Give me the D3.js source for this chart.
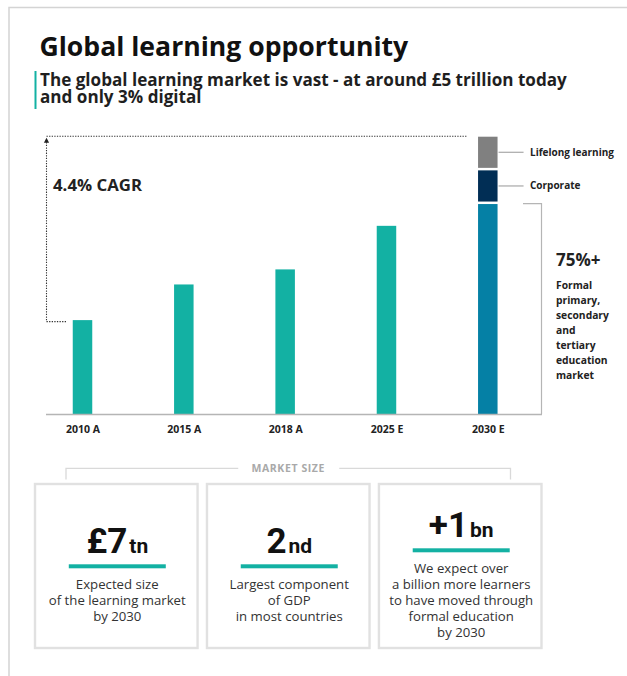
<!DOCTYPE html>
<html>
<head>
<meta charset="utf-8">
<script src="https://cdn.jsdelivr.net/npm/d3@7"></script>
<style>
  html, body { margin: 0; padding: 0; background: #fff; }
  svg { display: block; font-family: "Open Sans", "Noto Sans", sans-serif; }
</style>
</head>
<body>
<svg id="chart" width="627" height="676"></svg>
<script>
// ---- data (£ trillion) ----
const years = ["2010 A", "2015 A", "2018 A", "2025 E", "2030 E"];
const marketTn = [2.37, 3.27, 3.65, 4.75, null];          // single-colour bars
const segmentNames2030 = ["Formal", "Corporate", "Lifelong learning"];
const segmentValues2030 = [5.3, 0.85, 0.85];               // stacked 2030 bar, total £7tn
const cagrLabel = "4.4% CAGR";
const formalShareLabel = "75%+";
const formalNoteLines = ["Formal", "primary,", "secondary", "and", "tertiary", "education", "market"];

const cardFigures = ["£7", "2", "+1"];
const cardUnits = ["tn", "nd", "bn"];
const cardNotes = [
  ["Expected size", "of the learning market", "by 2030"],
  ["Largest component", "of GDP", "in most countries"],
  ["We expect over", "a billion more learners", "to have moved through", "formal education", "by 2030"]
];

// ---- colours ----
const teal = "#13b1a3";
const segColours = ["#0580a5", "#012e55", "#808080"];

const svg = d3.select("#chart");

// outer frame (top and left rules)
svg.append("path")
  .attr("d", "M9,676 V7.5 H627")
  .attr("fill", "none").attr("stroke", "#d4d4d4").attr("stroke-width", 1.5);

// headings
svg.append("text").attr("x", 39.5).attr("y", 55.5)
  .attr("font-size", 26.6).attr("font-weight", 700).attr("fill", "#111")
  .text("Global learning opportunity");
svg.append("rect").attr("x", 34.5).attr("y", 71).attr("width", 2).attr("height", 38).attr("fill", teal);
const sub = svg.append("text").attr("font-size", 17.1).attr("font-weight", 700).attr("fill", "#1f1f1f");
sub.append("tspan").attr("x", 40).attr("y", 86).text("The global learning market is vast - at around £5 trillion today");
sub.append("tspan").attr("x", 40).attr("y", 103).text("and only 3% digital");

// ---- bar chart ----
const baseY = 414;
const x = d3.scalePoint().domain(years).range([82.5, 487.8]);
const y = d3.scaleLinear().domain([0, 7]).range([baseY, 136.7]);
const barW = 19.5;

const g = svg.append("g");

// single bars
g.selectAll("rect.bar")
  .data(years.map((yr, i) => ({ yr, v: marketTn[i] })).filter(d => d.v != null))
  .join("rect").attr("class", "bar")
  .attr("x", d => x(d.yr) - barW / 2)
  .attr("y", d => y(d.v))
  .attr("width", barW)
  .attr("height", d => baseY - y(d.v))
  .attr("fill", teal);

// stacked 2030 bar
let acc = 0;
const stack2030 = segmentValues2030.map((v, i) => {
  const s = { name: segmentNames2030[i], y0: acc, y1: acc + v, i };
  acc += v;
  return s;
});
const gap = 2.5;
g.selectAll("rect.seg")
  .data(stack2030)
  .join("rect").attr("class", "seg")
  .attr("x", x("2030 E") - barW / 2)
  .attr("y", d => y(d.y1))
  .attr("width", barW)
  .attr("height", d => y(d.y0) - y(d.y1) - (d.i > 0 ? gap : 0))
  .attr("fill", d => segColours[d.i]);

// baseline
g.append("line").attr("x1", 46).attr("x2", 542).attr("y1", baseY + 0.5).attr("y2", baseY + 0.5)
  .attr("stroke", "#b5b5b5").attr("stroke-width", 1.5);

// x axis labels
const xAxis = g.append("g").attr("transform", `translate(0,${baseY + 7})`)
  .call(d3.axisBottom(x).tickSize(0).tickPadding(5));
xAxis.select(".domain").remove();
xAxis.selectAll("text")
  .attr("font-family", "'Open Sans', sans-serif")
  .attr("font-size", 10.5).attr("font-weight", 700).attr("fill", "#222");

// CAGR dotted guide from 2010 level to 2030 total
const total2030 = d3.sum(segmentValues2030);
const guideX = 46.5;
const yStart = y(marketTn[0]) + 1.5;
const yEnd = y(total2030) - 0.5;
g.append("path")
  .attr("d", `M66,${yStart} H${guideX} V${yEnd + 5} M${guideX},${yEnd} H466.5`)
  .attr("fill", "none").attr("stroke", "#333").attr("stroke-width", 1.1)
  .attr("stroke-dasharray", "1.3,1.3");
g.append("path")
  .attr("d", `M${guideX},${yEnd + 1.5} l-2.6,5 h5.2 Z`)
  .attr("fill", "#222");
g.append("text").attr("x", 53).attr("y", 190.5)
  .attr("font-size", 16.8).attr("font-weight", 700).attr("fill", "#222")
  .text(cagrLabel);

// segment call-outs
const barRight = x("2030 E") + barW / 2;
[2, 1].forEach(i => {
  const s = stack2030[i];
  const cy = (y(s.y0) - (i > 0 ? gap : 0) + y(s.y1)) / 2;
  g.append("line").attr("x1", barRight + 1).attr("x2", barRight + 26)
    .attr("y1", cy).attr("y2", cy).attr("stroke", "#a8a8a8").attr("stroke-width", 1.2);
  g.append("text").attr("x", 530).attr("y", cy).attr("dy", "0.35em")
    .attr("font-size", 10).attr("font-weight", 700).attr("fill", "#222")
    .text(s.name);
});

// bracket round the formal-education segment
const fTop = y(stack2030[0].y1) - 0.5;
g.append("path")
  .attr("d", `M523,${fTop} H541.5 V${baseY}`)
  .attr("fill", "none").attr("stroke", "#b5b5b5").attr("stroke-width", 1.2);
g.append("text").attr("x", 556).attr("y", 265.5)
  .attr("font-size", 17).attr("font-weight", 700).attr("fill", "#222")
  .text(formalShareLabel);
g.append("g").selectAll("text")
  .data(formalNoteLines).join("text")
  .attr("x", 556).attr("y", (d, i) => 289.3 + i * 15)
  .attr("font-size", 10.3).attr("font-weight", 700).attr("fill", "#222")
  .text(d => d);

// ---- market size cards ----
const cardX = d3.scaleBand().domain(d3.range(3)).range([34, 542.5]).paddingInner(0.043);
const cardTop = 484, cardH = 164;

// "MARKET SIZE" bracket
const mLeft = 66, mRight = 510.5, mY = 468.3, mMid = (mLeft + mRight) / 2;
svg.append("path")
  .attr("d", `M${mLeft},479.5 V${mY} H${mMid - 50} M${mMid + 51},${mY} H${mRight} V479.5`)
  .attr("fill", "none").attr("stroke", "#d9d9d9").attr("stroke-width", 1.3);
svg.append("text").attr("x", mMid).attr("y", 472).attr("text-anchor", "middle")
  .attr("font-size", 10.5).attr("letter-spacing", 0.6).attr("font-weight", 700).attr("fill", "#a9a9a9")
  .text("MARKET SIZE");

const cards = svg.selectAll("g.card")
  .data(cardFigures.map((f, i) => ({ f, unit: cardUnits[i], notes: cardNotes[i], i })))
  .join("g").attr("class", "card")
  .attr("transform", d => `translate(${cardX(d.i)},${cardTop})`);

cards.append("rect")
  .attr("x", 1).attr("y", 0).attr("width", cardX.bandwidth() - 2).attr("height", cardH)
  .attr("fill", "#fff").attr("stroke", "#e1e1e1").attr("stroke-width", 2.4);

const midY = 588.3 - cardTop;
cards.each(function (d) {
  const c = d3.select(this);
  const cx = cardX.bandwidth() / 2 + 1;
  const ulTop = midY - d.notes.length * 8;
  const fig = c.append("text").attr("x", cx).attr("y", ulTop - 11)
    .attr("text-anchor", "middle").attr("fill", "#111")
    .attr("font-family", "Roboto, sans-serif").attr("font-weight", 700);
  fig.append("tspan").attr("font-size", 35).text(d.f);
  fig.append("tspan").attr("font-size", 21).attr("dx", 2).text(d.unit);
  c.append("rect").attr("x", cx - 48.5).attr("y", ulTop).attr("width", 97).attr("height", 4)
    .attr("fill", teal);
  c.append("g").selectAll("text").data(d.notes).join("text")
    .attr("x", cx).attr("y", (t, i) => ulTop + 25 + i * 16)
    .attr("text-anchor", "middle").attr("font-size", 13.2).attr("fill", "#333")
    .text(t => t);
});
</script>
</body>
</html>
